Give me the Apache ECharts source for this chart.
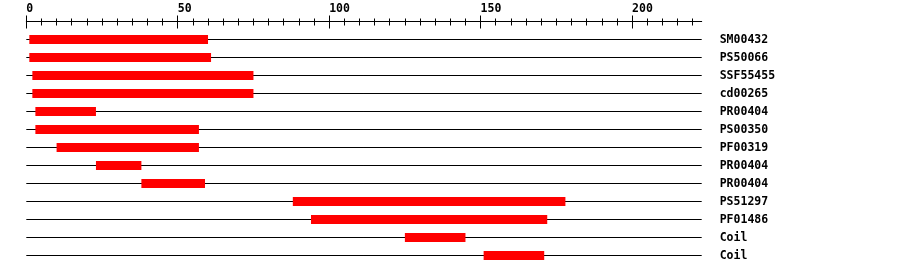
<!DOCTYPE html>
<html>
<head>
<meta charset="utf-8">
<script src="https://cdn.jsdelivr.net/npm/echarts@6/dist/echarts.min.js"></script>
<style>html,body{margin:0;padding:0;background:#fff;}#c{width:900px;height:274px;}</style>
</head>
<body>
<div id="c"></div>
<script>
const categories = ['SM00432','PS50066','SSF55455','cd00265','PR00404','PS00350','PF00319','PR00404','PR00404','PS51297','PF01486','Coil','Coil'];
const starts = [1, 1, 2, 2, 3, 3, 10, 23, 38, 88, 94, 125, 151];
const ends   = [60, 61, 75, 75, 23, 57, 57, 38, 59, 178, 172, 145, 171];
const tickLabels = [0, 50, 100, 150, 200];
const xMax = 223;

const font = 'DejaVu Sans Mono';
const chart = echarts.init(document.getElementById('c'), null, {renderer: 'canvas'});
const data = categories.map((c, i) => [i, starts[i], ends[i]]);

chart.setOption({
  animation: false,
  backgroundColor: '#fff',
  grid: {left: 26.3, right: 198.3, top: 30.5, height: 234, containLabel: false},
  xAxis: [
    {
      type: 'value', position: 'top', offset: 9, min: 0, max: xMax, interval: 50,
      axisLine: {show: true, lineStyle: {color: '#000', width: 1}},
      axisTick: {show: true, inside: false, length: 6, customValues: tickLabels, lineStyle: {color: '#000', width: 1}},
      minorTick: {show: true, splitNumber: 10, length: 3, lineStyle: {color: '#000', width: 1}},
      axisLabel: {show: true, customValues: tickLabels, align: 'left', verticalAlign: 'middle', margin: 12,
        color: '#000', fontFamily: font, fontWeight: 'bold', fontSize: 11.5},
      splitLine: {show: false}
    },
    {
      type: 'value', position: 'top', offset: 9, min: 0, max: xMax, interval: 50,
      axisLine: {show: false},
      axisTick: {show: true, inside: true, length: 7, customValues: tickLabels, lineStyle: {color: '#000', width: 1}},
      minorTick: {show: true, splitNumber: 10, length: 4, lineStyle: {color: '#000', width: 1}},
      axisLabel: {show: false},
      splitLine: {show: false}
    }
  ],
  yAxis: {
    type: 'category', data: categories, inverse: true, position: 'right',
    axisLine: {show: false}, axisTick: {show: false}, splitLine: {show: false},
    axisLabel: {
      show: true, align: 'left', margin: 18,
      formatter: function (v) { return '{a|' + v + '}'; },
      rich: {a: {padding: [2, 0, 0, 0], color: '#000', fontFamily: font, fontWeight: 'bold', fontSize: 11.5}}
    }
  },
  series: [{
    type: 'custom',
    xAxisIndex: 0,
    clip: false,
    data: data,
    encode: {y: 0, x: [1, 2]},
    renderItem: function (params, api) {
      const y = api.value(0);
      const p0 = api.coord([0, y]);
      const p1 = api.coord([xMax, y]);
      const a = api.coord([api.value(1), y]);
      const b = api.coord([api.value(2), y]);
      return {
        type: 'group',
        children: [
          {type: 'line', shape: {x1: p0[0], y1: p0[1], x2: p1[0], y2: p1[1]}, style: {stroke: '#000', lineWidth: 1}},
          {type: 'rect', shape: {x: a[0], y: a[1] - 4.5, width: b[0] - a[0], height: 9}, style: {fill: '#ff0000'}}
        ]
      };
    }
  }]
});
</script>
</body>
</html>
